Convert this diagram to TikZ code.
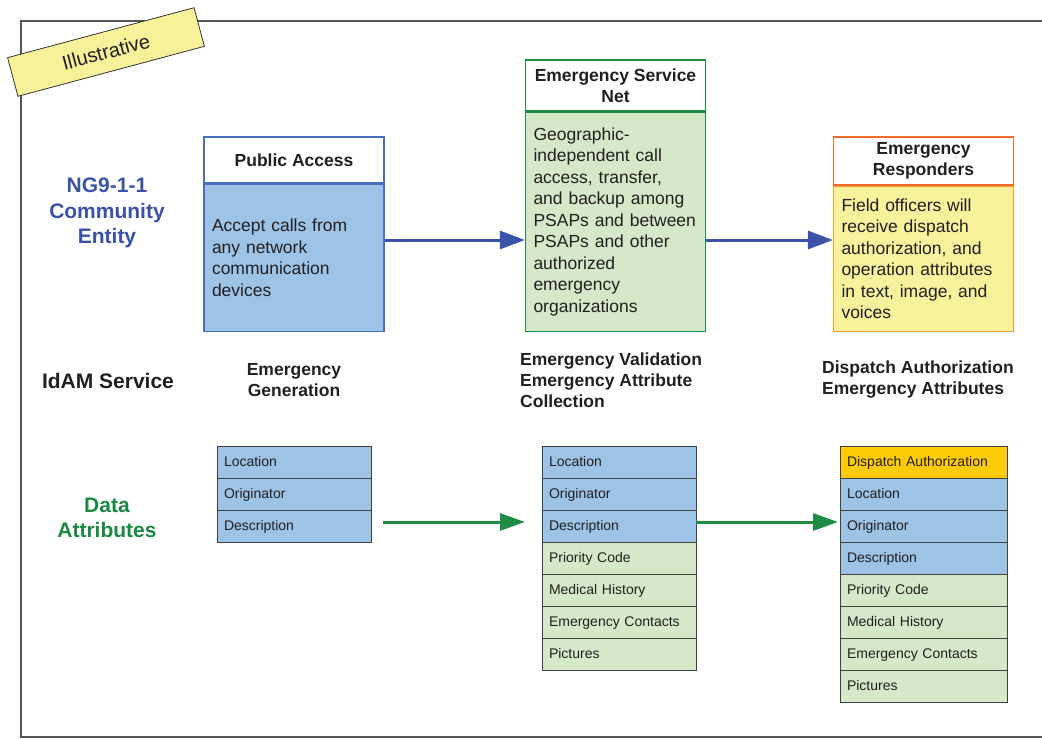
\documentclass[tikz,border=0pt]{standalone}
\usepackage{fontspec}
\setmainfont{Liberation Sans}
\usetikzlibrary{arrows.meta, positioning}

\definecolor{txtGray}{HTML}{231F20}
\definecolor{frameGray}{HTML}{555555}
\definecolor{paEdge}{HTML}{4A6FC0}
\definecolor{paFill}{HTML}{9DC3E6}
\definecolor{esnEdge}{HTML}{1E8C45}
\definecolor{esnFill}{HTML}{D5E8C8}
\definecolor{erEdge}{HTML}{F26B2A}
\definecolor{erBodyEdge}{HTML}{F9A030}
\definecolor{erFill}{HTML}{F8F29C}
\definecolor{tagFill}{HTML}{F7F29A}
\definecolor{authFill}{HTML}{FDCB08}
\definecolor{ngBlue}{HTML}{3A52A8}
\definecolor{daGreen}{HTML}{1A8A42}

\begin{document}
\begin{tikzpicture}[
    x=1pt, y=-1pt,
    node distance = 0pt,
    head/.style = {draw, rectangle, fill=white, minimum width=180pt, align=center, line width=1.2pt, text=txtGray, font=\fontsize{17.5}{21}\selectfont\bfseries},
    body/.style = {draw, rectangle, minimum width=180pt, text width=164pt, align=left, line width=1.2pt, text=txtGray, font=\fontsize{17.5}{21.5}\selectfont},
    cell/.style = {draw=black!75, rectangle, minimum height=32pt, text width=#1, text height=10pt, text depth=1pt, inner xsep=7pt, outer sep=0pt, align=left, line width=0.8pt, text=txtGray, font=\fontsize{14}{16}\selectfont},
    side/.style = {align=center, text=txtGray, font=\fontsize{21}{25.5}\selectfont\bfseries},
    svc/.style = {inner sep=0pt, text=txtGray, font=\fontsize{17.5}{21}\selectfont\bfseries},
    tag/.style = {draw=black!80, fill=tagFill, minimum width=193pt, minimum height=40pt, line width=0.8pt, text=txtGray, font=\fontsize{20}{24}\selectfont},
    flowblue/.style = {-{Triangle[length=25pt, width=18pt]}, line width=3pt, draw=ngBlue},
    flowgreen/.style = {-{Triangle[length=25pt, width=17pt]}, line width=3pt, draw=esnEdge}
]
    \useasboundingbox (0,0) rectangle (1042,739);

    % Frame
    \draw [frameGray, line width=1.4pt] (1042,21) -| (21,737) -- (1042,737);

    % Nodes
    \node [head, draw=paEdge, minimum height=46pt] (pahead) at (294,160) {Public Access};
    \node [body, draw=paEdge, fill=paFill, minimum height=147pt, below=of pahead] (pabody)
        {Accept calls from\\any network\\communication\\devices};

    \node [head, draw=esnEdge, minimum height=51pt] (esnhead) at (615.5,85.5) {Emergency Service\\Net};
    \node [body, draw=esnEdge, fill=esnFill, minimum height=219pt, below=of esnhead] (esnbody)
        {Geographic-\\independent call\\access, transfer,\\and backup among\\PSAPs and between\\PSAPs and other\\authorized\\emergency\\organizations};

    \node [head, draw=erEdge, minimum height=48pt] (erhead) at (923.5,161) {Emergency\\Responders};
    \node [body, draw=erBodyEdge, fill=erFill, minimum height=145pt, below=of erhead] (erbody)
        {Field officers will\\receive dispatch\\authorization, and\\operation attributes\\in text, image, and\\voices};

    % Row labels
    \node [side, text=ngBlue] (ngce) at (107,213) {NG9-1-1\\Community\\Entity};
    \node [side] (idam) at (108,381) {IdAM Service};
    \node [side, text=daGreen] (data) at (107,518) {Data\\Attributes};

    % IdAM service labels
    \node [svc, align=center] (gen) at (294,380) {Emergency\\Generation};
    \node [svc, align=left, anchor=west] (valid) at (520,380) {Emergency Validation\\Emergency Attribute\\Collection};
    \node [svc, align=left, anchor=west] (disp) at (822,380) {Dispatch Authorization\\Emergency Attributes};

    % Attribute tables
    \foreach \lbl/\fc [count=\i] in {Location/paFill, Originator/paFill, Description/paFill}
        \node [cell=140pt, fill=\fc, anchor=north west] (gen-\i) at (217,{446+32*(\i-1)}) {\lbl};
    \foreach \lbl/\fc [count=\i] in {Location/paFill, Originator/paFill, Description/paFill,
        Priority Code/esnFill, Medical History/esnFill, Emergency Contacts/esnFill, Pictures/esnFill}
        \node [cell=140pt, fill=\fc, anchor=north west] (val-\i) at (542,{446+32*(\i-1)}) {\lbl};
    \foreach \lbl/\fc [count=\i] in {Dispatch Authorization/authFill, Location/paFill, Originator/paFill, Description/paFill,
        Priority Code/esnFill, Medical History/esnFill, Emergency Contacts/esnFill, Pictures/esnFill}
        \node [cell=153pt, fill=\fc, anchor=north west] (dsp-\i) at (840,{446+32*(\i-1)}) {\lbl};

    % Illustrative tag
    \node [tag, rotate=15] (illus) at (106,52) {Illustrative};

    % Edges
    \draw [flowblue] (pabody.east |- 0,240) -- (esnbody.west |- 0,240);
    \draw [flowblue] (esnbody.east |- 0,240) -- (erbody.west |- 0,240);
    \draw [flowgreen, shorten <=12pt, shorten >=17pt] (gen-3.east |- 0,522) -- (val-3.west |- 0,522);
    \draw [flowgreen, shorten >=2pt] (val-3.east |- 0,522) -- (dsp-3.west |- 0,522);
\end{tikzpicture}
\end{document}
